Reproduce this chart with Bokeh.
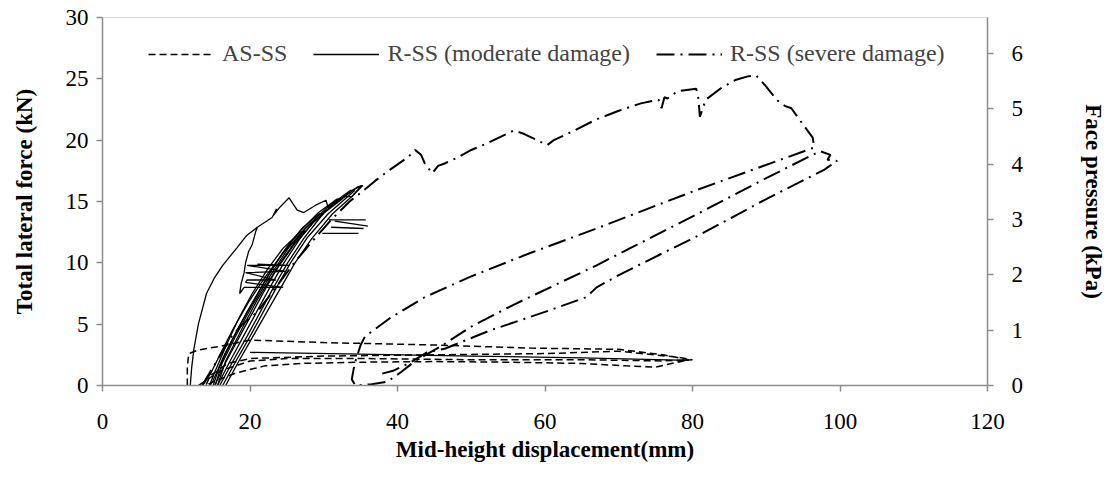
from bokeh.plotting import figure
from bokeh.models import Range1d, LinearAxis, FixedTicker, Legend, LegendItem
from bokeh.embed import file_html
from bokeh.resources import INLINE

# ---------------- data ----------------
x_ticks = [0, 20, 40, 60, 80, 100, 120]
y_ticks = [0, 5, 10, 15, 20, 25, 30]
kpa_ticks = [0, 1, 2, 3, 4, 5, 6]

# AS-SS (dashed)
as_x = [11.5, 11.5, 11.7, 13.0, 16.0, 20.0, 30.0, 45.0, 58.0, 70.0, 76.0, 79.5,
        75.0, 71.0, 65.0, 55.0, 45.0, 35.0, 27.0, 22.0, 18.0, 15.0, 14.0,
        14.6, 17.0, 20.0, 30.0, 45.0, 60.0, 70.0, 78.0, 80.0,
        76.0, 65.0, 50.0, 35.0, 25.0, 20.0, 16.0, 13.0]
as_y = [0.0, 1.5, 2.6, 2.9, 3.2, 3.7, 3.5, 3.3, 3.05, 2.95, 2.5, 2.1,
        1.5, 1.6, 1.8, 1.9, 1.95, 1.9, 1.8, 1.6, 1.0, 0.3, 0.0,
        0.8, 1.8, 2.2, 2.4, 2.5, 2.6, 2.8, 2.3, 2.1,
        2.0, 2.1, 2.1, 2.2, 2.2, 2.0, 1.2, 0.0]

# R-SS moderate damage (solid) - several traced segments
mod_outer_x = [11.9, 12.1, 12.4, 13.0, 14.1, 15.2, 16.3, 18.2, 19.5, 21.0, 23.0, 23.6, 23.2,
               24.0, 25.3, 26.4, 27.3, 28.9, 30.3, 30.6, 32.9, 33.8, 35.1,
               34.2, 31.0, 27.5, 24.5, 22.0, 19.8, 17.8, 16.0, 14.6, 13.6]
mod_outer_y = [0.0, 1.5, 3.0, 5.0, 7.5, 8.8, 9.8, 11.2, 12.2, 12.9, 13.7, 14.4, 13.9,
               14.5, 15.3, 14.3, 14.1, 14.7, 15.1, 14.5, 15.4, 15.4, 16.3,
               16.0, 14.6, 12.8, 10.8, 8.8, 6.8, 4.7, 2.6, 0.9, 0.0]
mod_jag_x = [21.0, 20.8, 20.3, 19.8, 19.4, 19.2, 18.8, 18.6, 19.2, 24.5, 19.4, 19.6, 23.5,
             19.4, 24.8, 19.6, 25.3, 21.0]
mod_jag_y = [12.9, 12.6, 11.5, 10.9, 10.0, 9.2, 8.3, 7.5, 8.0, 8.0, 8.4, 8.6, 8.6,
             9.2, 9.3, 9.8, 9.8, 9.9]
mod_loopA_x = [15.2, 16.8, 18.6, 20.4, 22.2, 24.1, 26.2, 27.5, 26.8, 24.5, 22.4, 20.3, 18.5, 16.8, 15.3, 14.5]
mod_loopA_y = [0.0, 2.0, 4.0, 6.0, 8.0, 10.0, 11.8, 12.6, 12.5, 11.2, 9.5, 7.5, 5.5, 3.3, 1.2, 0.0]
mod_loopB_x = [15.6, 17.3, 19.1, 20.9, 22.7, 24.6, 26.8, 28.6, 30.0, 29.4, 27.2, 25.0, 22.8, 20.6, 18.5, 16.6, 15.0, 14.6]
mod_loopB_y = [0.0, 2.0, 4.0, 6.0, 8.0, 10.0, 12.0, 13.3, 14.0, 14.0, 12.9, 11.3, 9.3, 7.0, 4.8, 2.6, 0.4, 0.0]
mod_loopC_x = [15.9, 17.7, 19.6, 21.4, 23.2, 25.1, 27.3, 29.9, 32.5, 31.8, 29.3, 26.8, 24.3, 21.9, 19.6, 17.6, 15.9, 15.0]
mod_loopC_y = [0.0, 2.0, 4.0, 6.0, 8.0, 10.0, 12.0, 14.0, 15.2, 15.2, 14.1, 12.6, 10.7, 8.4, 6.0, 3.7, 1.6, 0.0]
mod_loopD_x = [16.3, 18.1, 20.0, 21.8, 23.6, 25.5, 27.7, 30.6, 34.2, 33.6, 30.6, 27.8, 25.2, 22.8, 20.4, 18.2, 16.2, 15.3]
mod_loopD_y = [0.0, 2.0, 4.0, 6.0, 8.0, 10.0, 12.0, 14.0, 15.9, 15.9, 14.6, 13.0, 11.2, 9.0, 6.6, 4.2, 1.8, 0.0]
mod_loopE_x = [16.7, 18.5, 20.4, 22.3, 24.2, 26.1, 28.4, 31.2, 33.8, 35.3, 34.6, 31.5, 28.6, 26.0, 23.4, 21.0, 18.8, 16.7, 15.6]
mod_loopE_y = [0.0, 2.0, 4.0, 6.0, 8.0, 10.0, 12.0, 14.0, 15.4, 16.3, 16.2, 14.9, 13.3, 11.5, 9.3, 7.0, 4.5, 2.0, 0.0]
mod_comb_x = [30.7, 35.7, 31.5, 36.0, 31.0, 35.4, 29.8, 34.7]
mod_comb_y = [13.5, 13.5, 13.4, 13.0, 12.9, 12.8, 12.4, 12.4]
mod_flat_x = [20.0, 35.0, 50.0, 65.0, 79.5]
mod_flat_y = [2.7, 2.55, 2.4, 2.25, 2.05]

# R-SS severe damage (dash-dot)
sev_x = [13.5, 14.5, 16.0, 17.5, 19.0, 21.0, 23.5, 26.0, 28.5, 31.0, 33.5, 35.6, 37.0, 39.0,
         41.4, 42.4, 43.2, 43.7, 44.7, 45.5, 46.4, 48.2, 50.0, 52.0, 55.8, 57.2, 60.3, 61.2,
         64.0, 67.0, 70.0, 73.0, 75.4, 75.8, 76.2, 76.6, 78.0, 80.5, 80.8, 81.0, 81.8, 84.0,
         85.8, 87.5, 88.6, 89.8, 91.4, 92.5, 93.4, 95.2, 96.3, 96.5,
         80.4, 67.0, 58.0, 50.0, 43.7, 39.0, 35.6, 35.0, 34.2, 33.8, 34.3, 36.5, 38.6,
         40.5, 42.4, 45.9, 50.0, 55.8, 67.0, 80.4, 90.0, 95.6, 97.3,
         98.7, 98.3, 99.6, 98.6, 97.9,
         90.0, 80.4, 76.0, 70.0, 67.0, 65.6, 60.0, 52.6, 46.4, 44.0, 41.5, 39.4, 37.5]
sev_y = [0.0, 1.0, 2.5, 4.0, 5.0, 6.0, 8.0, 10.0, 11.8, 13.5, 15.0, 16.0, 16.7, 17.6,
         18.6, 19.2, 18.8, 18.1, 17.3, 17.9, 18.1, 18.6, 19.2, 19.7, 20.8, 20.5, 19.6, 20.0,
         20.8, 21.7, 22.4, 23.0, 23.3, 22.6, 23.5, 23.4, 24.0, 24.2, 23.4, 21.9, 23.3, 24.3,
         24.9, 25.2, 25.3, 24.5, 23.3, 22.8, 22.6, 21.1, 20.2, 19.4,
         15.9, 12.8, 10.8, 8.9, 7.2, 5.5, 4.0, 3.3, 1.8, 0.5, 0.0, 0.1, 0.3,
         1.1, 2.0, 3.2, 4.8, 6.6, 9.8, 13.9, 16.9, 18.6, 19.1,
         18.8, 18.4, 18.3, 17.9, 17.6,
         15.2, 12.1, 10.8, 9.0, 8.0, 7.2, 6.0, 4.5, 3.0, 2.7, 1.8, 1.2, 0.9]

legend_labels = ["AS-SS", "R-SS (moderate damage)", "R-SS (severe damage)"]

# ---------------- figure ----------------
FONT = "Liberation Serif"
p = figure(width=1109, height=485, output_backend="svg", toolbar_location=None,
           x_range=Range1d(0, 120), y_range=Range1d(0, 30),
           min_border_left=102, min_border_right=115, min_border_top=17, min_border_bottom=100)
p.extra_y_ranges = {"kpa": Range1d(0, 6.65)}
p.grid.visible = False
p.outline_line_color = "#d9d9d9"
p.outline_line_width = 1
p.background_fill_color = "white"
p.border_fill_color = "white"

p.xaxis.ticker = FixedTicker(ticks=x_ticks)
p.yaxis.ticker = FixedTicker(ticks=y_ticks)
p.xaxis.axis_label = "Mid-height displacement(mm)"
p.yaxis.axis_label = "Total lateral force (kN)"

right = LinearAxis(y_range_name="kpa", ticker=FixedTicker(ticks=kpa_ticks),
                   axis_label="Face pressure (kPa)")
p.add_layout(right, "right")

for ax in [p.xaxis[0], p.yaxis[0], right]:
    ax.axis_line_color = "#8c8c8c"
    ax.axis_line_width = 1.5
    ax.major_tick_line_color = "#8c8c8c"
    ax.major_tick_line_width = 1.5
    ax.major_tick_out = 6
    ax.major_tick_in = 0
    ax.minor_tick_line_color = None
    ax.major_label_text_font = FONT
    ax.major_label_text_font_size = "23px"
    ax.major_label_text_color = "black"
    ax.axis_label_text_font = FONT
    ax.axis_label_text_font_size = "23px"
    ax.axis_label_text_font_style = "bold"
    ax.axis_label_text_color = "black"

p.xaxis.major_label_standoff = 22
p.xaxis.axis_label_standoff = 5
p.yaxis.major_label_standoff = 8
p.yaxis.axis_label_standoff = 26
right.major_label_standoff = 18
right.axis_label_standoff = 55

LW = 1.3
r_as = p.line(as_x, as_y, line_color="black", line_width=1.5, line_dash="7 4")
r_mod = None
for xs, ys in [(mod_outer_x, mod_outer_y), (mod_jag_x, mod_jag_y),
               (mod_loopA_x, mod_loopA_y), (mod_loopB_x, mod_loopB_y),
               (mod_loopC_x, mod_loopC_y), (mod_loopD_x, mod_loopD_y),
               (mod_loopE_x, mod_loopE_y), (mod_flat_x, mod_flat_y)]:
    r = p.line(xs, ys, line_color="black", line_width=LW)
    if r_mod is None:
        r_mod = r
p.multi_line([mod_comb_x[i:i + 2] for i in range(0, len(mod_comb_x), 2)],
             [mod_comb_y[i:i + 2] for i in range(0, len(mod_comb_y), 2)],
             line_color="black", line_width=LW)
r_sev = p.line(sev_x, sev_y, line_color="black", line_width=2, line_dash="18 6 2 6")

legend = Legend(items=[LegendItem(label=legend_labels[0], renderers=[r_as]),
                       LegendItem(label=legend_labels[1], renderers=[r_mod]),
                       LegendItem(label=legend_labels[2], renderers=[r_sev])],
                orientation="horizontal", location=(46, 318))
legend.label_text_font = FONT
legend.label_text_font_size = "24px"
legend.glyph_width = 66
legend.glyph_height = 20
legend.label_standoff = 8
legend.spacing = 26
legend.padding = 0
legend.margin = 0
legend.border_line_alpha = 0
legend.background_fill_alpha = 0
p.add_layout(legend)

open("out.html", "w").write(file_html(p, INLINE))
